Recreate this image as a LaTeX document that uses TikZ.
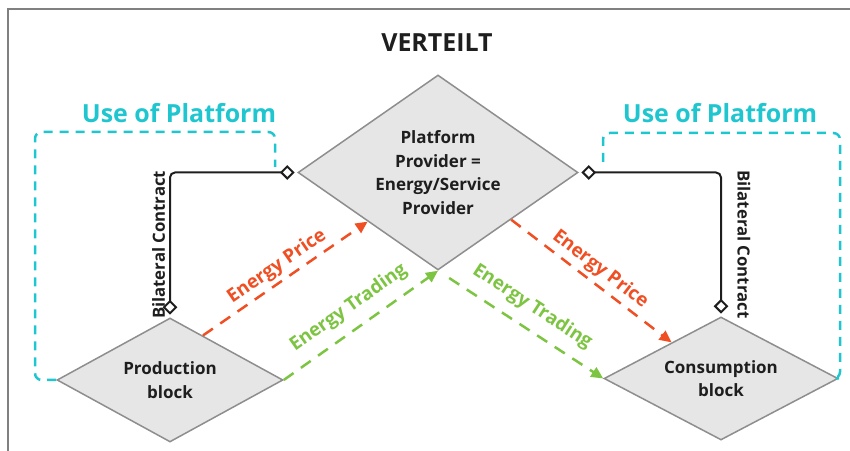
\documentclass[tikz,border=0pt]{standalone}
\usepackage{fontspec}
\setmainfont{Open Sans}
\usetikzlibrary{shapes.geometric,arrows.meta,calc}

\definecolor{platcyan}{HTML}{1FC6CF}
\definecolor{pricered}{HTML}{F04E23}
\definecolor{tradegreen}{HTML}{7DC443}
\definecolor{blockgray}{HTML}{E6E6E6}
\definecolor{edgegray}{HTML}{8E8E8E}
\definecolor{inkblack}{HTML}{1E1E1E}

\tikzset{
  block/.style={diamond, draw=edgegray, line width=0.45mm, fill=blockgray,
    inner sep=0pt, align=center, text=inkblack,
    font=\fontsize{14.5}{20}\selectfont\bfseries},
  contract/.style={inkblack, line width=0.6mm, rounded corners=1.5mm,
    {Diamond[open,length=4.4mm,width=4.4mm]}-{Diamond[open,length=4.4mm,width=4.4mm]},
    shorten <=0.8mm, shorten >=0.8mm},
  platform/.style={platcyan, line width=0.75mm, dash pattern=on 2.7mm off 2.1mm,
    rounded corners=2mm},
  flow/.style={line width=0.75mm, dash pattern=on 3.6mm off 2.7mm,
    -{Triangle[length=3.6mm,width=3.3mm]}},
  flowlabel/.style={font=\fontsize{16}{19}\selectfont\bfseries, sloped, above},
  bigtext/.style={font=\fontsize{21.3}{25}\selectfont\bfseries},
  sidetext/.style={font=\fontsize{14.3}{17}\selectfont\bfseries, sloped, text=inkblack}
}

\begin{document}
\begin{tikzpicture}[x=0.3mm, y=-0.3mm]
    \useasboundingbox (0,0) rectangle (850,451);
    \draw[gray, line width=0.6mm] (8,451) -- (8,9) -- (850,9);

    \node[bigtext, text=inkblack] (title) at (437,43) {VERTEILT};

    % the three blocks
    \node[block, minimum width=84mm, minimum height=58.5mm, shape aspect=1.43]
        (prov) at (438,172.5) {Platform\\Provider =\\Energy/Service\\Provider};
    \node[block, minimum width=67.8mm, minimum height=37.2mm, shape aspect=1.8]
        (prod) at (170,380) {Production\\block};
    \node[block, minimum width=70.2mm, minimum height=36.9mm, shape aspect=1.9]
        (cons) at (721,378.5) {Consumption\\block};

    % use of platform
    \node[bigtext, text=platcyan] (lplat) at (179,113) {Use of Platform};
    \node[bigtext, text=platcyan] (rplat) at (720,113) {Use of Platform};
    \coordinate (lpend) at (275,167);
    \coordinate (rpend) at (603,162);
    \draw[platform] (prod.west) -| (35,132) -| (lpend);
    \draw[platform] (rpend) |- (840,133) |- (cons.east);

    % contracts
    \draw[contract] (prod.north) |- node[pos=0.25, above, sidetext] {Bilateral Contract} (prov.west);
    \draw[contract] (prov.east) -| node[pos=0.75, above=3.5mm, sidetext] {Bilateral Contract} (cons.north);

    % price and trading flows
    \draw[flow, pricered] ($(prod.north)!0.29!(prod.east)$) -- node[flowlabel] {Energy Price}
        ($(prov.west)!0.5!(prov.south)$);
    \draw[flow, tradegreen] (prod.east) -- node[flowlabel, above=2mm] {Energy Trading} (prov.south);
    \draw[flow, tradegreen, shorten <=4mm] (prov.south) -- node[flowlabel, above=2mm] {Energy Trading} (cons.west);
    \draw[flow, pricered] ($(prov.south)!0.52!(prov.east)$) -- node[flowlabel] {Energy Price}
        ($(cons.west)!0.58!(cons.north)$);
\end{tikzpicture}
\end{document}
